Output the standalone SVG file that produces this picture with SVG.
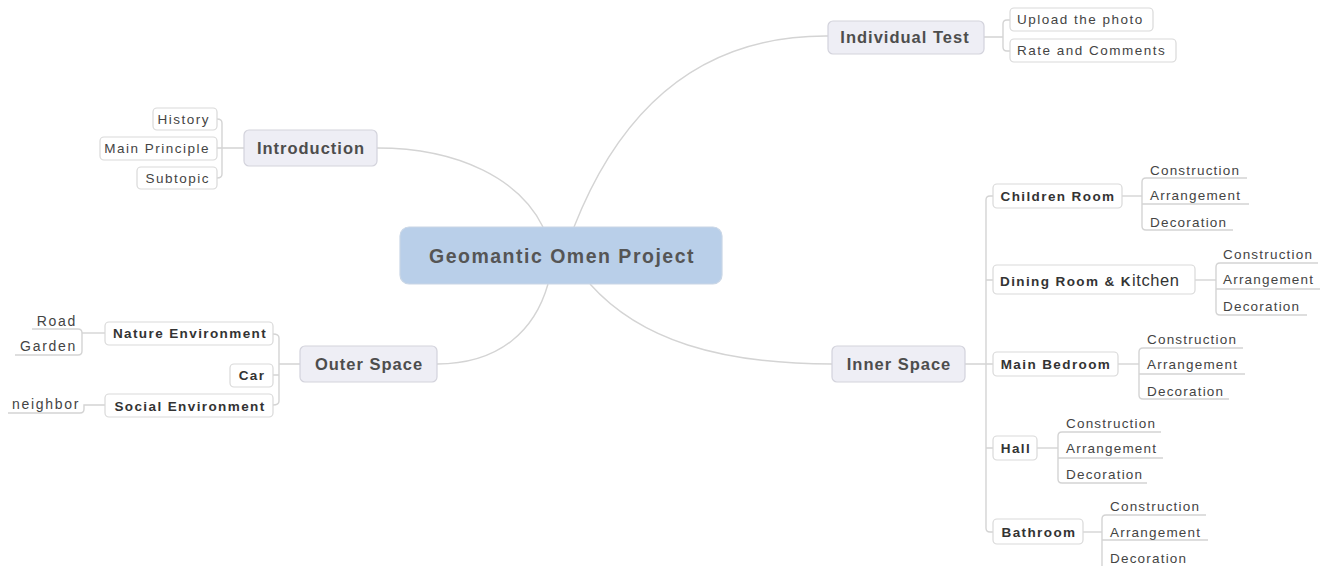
<svg xmlns="http://www.w3.org/2000/svg" width="1333" height="566" viewBox="0 0 1333 566">
  <style>
    .bg { fill: #ffffff; }
    .link { fill: none; stroke: #d4d4d4; stroke-width: 1.4; }
    .centre { fill: #b9cfe9; stroke: #c9d6e6; stroke-width: 1.2; }
    .main { fill: #eeeef5; stroke: #d3d3dc; stroke-width: 1.2; }
    .sub { fill: #ffffff; stroke: #d9d9d9; stroke-width: 1.2; }
    .uline { fill: none; stroke: #d4d4d4; stroke-width: 1.4; }
    text { font-family: "Liberation Sans", Arial, sans-serif; fill: #474747; }
    .t-centre { font-size: 19.5px; font-weight: bold; letter-spacing: 1.5px; fill: #555555; }
    .t-main { font-size: 16.5px; font-weight: bold; letter-spacing: 1px; fill: #4d4d4d; }
    .t-sub { font-size: 13.5px; font-weight: bold; letter-spacing: 1.4px; fill: #333333; }
    .t-leaf { font-size: 13.5px; letter-spacing: 1.5px; fill: #444444; }
    .t-room { font-size: 13.5px; letter-spacing: 1.2px; fill: #444444; }
    .t-outer { font-size: 14px; letter-spacing: 1.7px; fill: #444444; }
  </style>
  <rect class="bg" x="0" y="0" width="1333" height="566"/>

  <!-- connectors -->
  <g id="connectors">
    <!-- centre to main topics -->
    <path class="link" d="M377,148 C460,148 520,180 543,227"/>
    <path class="link" d="M574,227 C620,110 700,35 828,36"/>
    <path class="link" d="M437,364 C500,364 535,330 548,284"/>
    <path class="link" d="M590,284 C640,340 720,364 832,364"/>

    <!-- Individual Test branch -->
    <path class="link" d="M984,37 H1003 M1010,20 H1007 Q1003,20 1003,24 V47 Q1003,51 1007,51 H1010"/>

    <!-- Introduction branch -->
    <path class="link" d="M244,148 H217 M217,119 Q222,119 222,123 V174 Q222,178 217,178"/>

    <!-- Outer Space branch -->
    <path class="link" d="M300,364 H279 M273,334 Q279,334 279,338 V401 Q279,405 273,405 M273,375 H279"/>
    <path class="link" d="M105,333 H82"/>
    <path class="uline" d="M32,329 H78 Q82,329 82,333 V351 Q82,355 78,355 H15"/>
    <path class="uline" d="M8,413 H80 Q84,413 84,409 V405 H105"/>

    <!-- Inner Space branch -->
    <path class="link" d="M965,364 H986 M993,196 H990 Q986,196 986,200 V528 Q986,532 990,532 H993 M986,280 H993 M986,364 H993 M986,448 H993"/>

    <!-- Children Room leaves -->
    <path class="link" d="M1122,196 H1142"/>
    <path class="uline" d="M1247,178 H1146 Q1142,178 1142,182 V226 Q1142,230 1146,230 H1233 M1142,204 H1249"/>
    <!-- Dining Room & Kitchen leaves -->
    <path class="link" d="M1195,280 H1216"/>
    <path class="uline" d="M1318,263 H1220 Q1216,263 1216,267 V311 Q1216,315 1220,315 H1307 M1216,289 H1320"/>
    <!-- Main Bedroom leaves -->
    <path class="link" d="M1118,364 H1139"/>
    <path class="uline" d="M1243,348 H1143 Q1139,348 1139,352 V395 Q1139,399 1143,399 H1229 M1139,374 H1245"/>
    <!-- Hall leaves -->
    <path class="link" d="M1037,448 H1058"/>
    <path class="uline" d="M1161,432 H1062 Q1058,432 1058,436 V479 Q1058,483 1062,483 H1147 M1058,458 H1163"/>
    <!-- Bathroom leaves -->
    <path class="link" d="M1083,532 H1102"/>
    <path class="uline" d="M1206,515 H1106 Q1102,515 1102,519 V566 M1102,540 H1208"/>
  </g>

  <!-- central topic -->
  <g id="node-centre">
    <rect class="centre" x="400" y="227" width="322" height="57" rx="9"/>
    <text class="t-centre" x="562" y="263" text-anchor="middle">Geomantic Omen Project</text>
  </g>

  <!-- Individual Test -->
  <g id="node-individual-test">
    <rect class="main" x="828" y="21" width="156" height="33" rx="5"/>
    <text class="t-main" x="905" y="43" text-anchor="middle">Individual Test</text>
  </g>
  <g id="node-upload">
    <rect class="sub" x="1010" y="8" width="143" height="23" rx="4"/>
    <text class="t-leaf" x="1017" y="24">Upload the photo</text>
  </g>
  <g id="node-rate">
    <rect class="sub" x="1010" y="39" width="166" height="23" rx="4"/>
    <text class="t-leaf" x="1017" y="55">Rate and Comments</text>
  </g>

  <!-- Introduction -->
  <g id="node-introduction">
    <rect class="main" x="244" y="130" width="133" height="36" rx="5"/>
    <text class="t-main" x="311" y="154" text-anchor="middle">Introduction</text>
  </g>
  <g id="node-history">
    <rect class="sub" x="153" y="108" width="64" height="22" rx="4"/>
    <text class="t-leaf" x="210" y="124" text-anchor="end">History</text>
  </g>
  <g id="node-main-principle">
    <rect class="sub" x="100" y="137" width="117" height="23" rx="4"/>
    <text class="t-leaf" x="210" y="153" text-anchor="end">Main Principle</text>
  </g>
  <g id="node-subtopic">
    <rect class="sub" x="137" y="167" width="80" height="22" rx="4"/>
    <text class="t-leaf" x="210" y="183" text-anchor="end">Subtopic</text>
  </g>

  <!-- Outer Space -->
  <g id="node-outer-space">
    <rect class="main" x="300" y="346" width="137" height="36" rx="5"/>
    <text class="t-main" x="369" y="370" text-anchor="middle">Outer Space</text>
  </g>
  <g id="node-nature-env">
    <rect class="sub" x="105" y="322" width="168" height="23" rx="4"/>
    <text class="t-sub" x="190" y="338" text-anchor="middle">Nature Environment</text>
  </g>
  <g id="node-car">
    <rect class="sub" x="230" y="364" width="43" height="23" rx="4"/>
    <text class="t-sub" x="252" y="380" text-anchor="middle">Car</text>
  </g>
  <g id="node-social-env">
    <rect class="sub" x="105" y="394" width="168" height="23" rx="4"/>
    <text class="t-sub" x="190" y="411" text-anchor="middle">Social Environment</text>
  </g>
  <g id="leaf-road"><text class="t-outer" x="77" y="326" text-anchor="end">Road</text></g>
  <g id="leaf-garden"><text class="t-outer" x="77" y="351" text-anchor="end">Garden</text></g>
  <g id="leaf-neighbor"><text class="t-outer" x="80" y="409" text-anchor="end">neighbor</text></g>

  <!-- Inner Space -->
  <g id="node-inner-space">
    <rect class="main" x="832" y="346" width="133" height="36" rx="5"/>
    <text class="t-main" x="899" y="370" text-anchor="middle">Inner Space</text>
  </g>

  <g id="node-children-room">
    <rect class="sub" x="993" y="184" width="129" height="24" rx="4"/>
    <text class="t-sub" x="1058" y="201" text-anchor="middle">Children Room</text>
  </g>
  <g id="leaves-children-room">
    <text class="t-room" x="1150" y="175">Construction</text>
    <text class="t-room" x="1150" y="200">Arrangement</text>
    <text class="t-room" x="1150" y="227">Decoration</text>
  </g>

  <g id="node-dining-kitchen">
    <rect class="sub" x="993" y="265" width="202" height="29" rx="4"/>
    <text class="t-sub" x="1000" y="286" letter-spacing="1.3">Dining Room &amp; K<tspan font-weight="normal" font-size="16.5" letter-spacing="0.6">itchen</tspan></text>
  </g>
  <g id="leaves-dining-kitchen">
    <text class="t-room" x="1223" y="259">Construction</text>
    <text class="t-room" x="1223" y="284">Arrangement</text>
    <text class="t-room" x="1223" y="311">Decoration</text>
  </g>

  <g id="node-main-bedroom">
    <rect class="sub" x="993" y="352" width="125" height="24" rx="4"/>
    <text class="t-sub" x="1056" y="369" text-anchor="middle">Main Bedroom</text>
  </g>
  <g id="leaves-main-bedroom">
    <text class="t-room" x="1147" y="344">Construction</text>
    <text class="t-room" x="1147" y="369">Arrangement</text>
    <text class="t-room" x="1147" y="396">Decoration</text>
  </g>

  <g id="node-hall">
    <rect class="sub" x="993" y="436" width="44" height="24" rx="4"/>
    <text class="t-sub" x="1016" y="453" text-anchor="middle">Hall</text>
  </g>
  <g id="leaves-hall">
    <text class="t-room" x="1066" y="428">Construction</text>
    <text class="t-room" x="1066" y="453">Arrangement</text>
    <text class="t-room" x="1066" y="479">Decoration</text>
  </g>

  <g id="node-bathroom">
    <rect class="sub" x="993" y="519" width="90" height="25" rx="4"/>
    <text class="t-sub" x="1039" y="537" text-anchor="middle">Bathroom</text>
  </g>
  <g id="leaves-bathroom">
    <text class="t-room" x="1110" y="511">Construction</text>
    <text class="t-room" x="1110" y="537">Arrangement</text>
    <text class="t-room" x="1110" y="563">Decoration</text>
  </g>
</svg>
